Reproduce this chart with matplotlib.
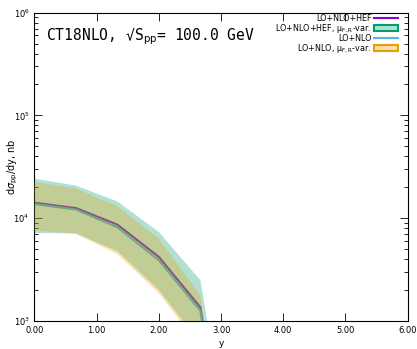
import matplotlib
matplotlib.use("Agg")
import matplotlib.pyplot as plt
from matplotlib.lines import Line2D
from matplotlib.patches import Patch

# rapidity bins and cross sections (nb)
y_bins = [0.0, 0.667, 1.333, 2.0, 2.667, 3.333]
hef_central = [14100, 12500, 8630, 4180, 1350, 2.8]
nlo_central = [13700, 12100, 8130, 3880, 1250, 2.7]
hef_up = [24200, 20700, 14500, 7310, 2480, 9.5]
hef_lo = [7150, 7100, 4750, 1990, 600, 0.2]
nlo_up = [22400, 19400, 13000, 6300, 1780, 2.4]
nlo_lo = [7590, 7000, 4450, 1850, 550, 0.2]

x_ticks = [0, 1, 2, 3, 4, 5, 6]

c_purple = "#9400d3"
c_green = "#009e73"
c_cyan = "#56b4e9"
c_orange = "#e69f00"

fig = plt.figure(figsize=(4.17, 3.49), dpi=100)
ax = fig.add_axes([0.0827, 0.081, 0.895, 0.8826])

# lines go under the transparent bands, as in the original
ax.plot(y_bins, hef_central, color=c_purple, lw=1.5, zorder=2)
ax.plot(y_bins, nlo_central, color=c_cyan, lw=1.5, zorder=2)
ax.fill_between(y_bins, hef_lo, hef_up, facecolor=c_green, alpha=0.3, lw=0, zorder=3)
ax.fill_between(y_bins, nlo_lo, nlo_up, facecolor=c_orange, alpha=0.3, lw=0, zorder=3)

ax.set_yscale("log")
ax.set_xlim(0, 6)
ax.set_ylim(1e3, 1e6)
ax.set_xticks(x_ticks)
ax.set_xticklabels([f"{t:.2f}" for t in x_ticks])
ax.tick_params(which="both", direction="in", top=True, right=True, labelsize=6, width=0.6)
ax.tick_params(which="major", length=6)
ax.tick_params(which="minor", length=3)
for s in ax.spines.values():
    s.set_linewidth(0.8)

ax.set_xlabel("y", fontsize=6.5)
ax.xaxis.set_label_coords(0.5, -0.06)
ax.set_ylabel(r"d$\sigma_{\rm pp}$/dy, nb", fontsize=7)
ax.yaxis.set_label_coords(-0.04, 0.5)

fig.text(46 / 417, 1 - 40.5 / 349, r"CT18NLO, √S$_{\rm pp}$= 100.0 GeV",
         family=["DejaVu Sans Mono", "DejaVu Sans"], fontsize=10.5, va="baseline")

handles = [
    Line2D([], [], color=c_purple, lw=1.5),
    Patch(facecolor=(0, 0.62, 0.45, 0.3), edgecolor=c_green, lw=1.5),
    Line2D([], [], color=c_cyan, lw=1.5),
    Patch(facecolor=(0.9, 0.62, 0.0, 0.3), edgecolor=c_orange, lw=1.5),
]
labels = [
    "LO+NLO+HEF",
    r"LO+NLO+HEF, μ$_{\rm F,R}$-var.",
    "LO+NLO",
    r"LO+NLO, μ$_{\rm F,R}$-var.",
]
ax.legend(handles, labels, loc="upper right", bbox_to_anchor=(0.974, 0.996),
          frameon=False, fontsize=5.8, markerfirst=False, handlelength=3.0,
          handletextpad=0.3, labelspacing=-0.12, borderpad=0, borderaxespad=0)

fig.savefig("out.png", dpi=100)
